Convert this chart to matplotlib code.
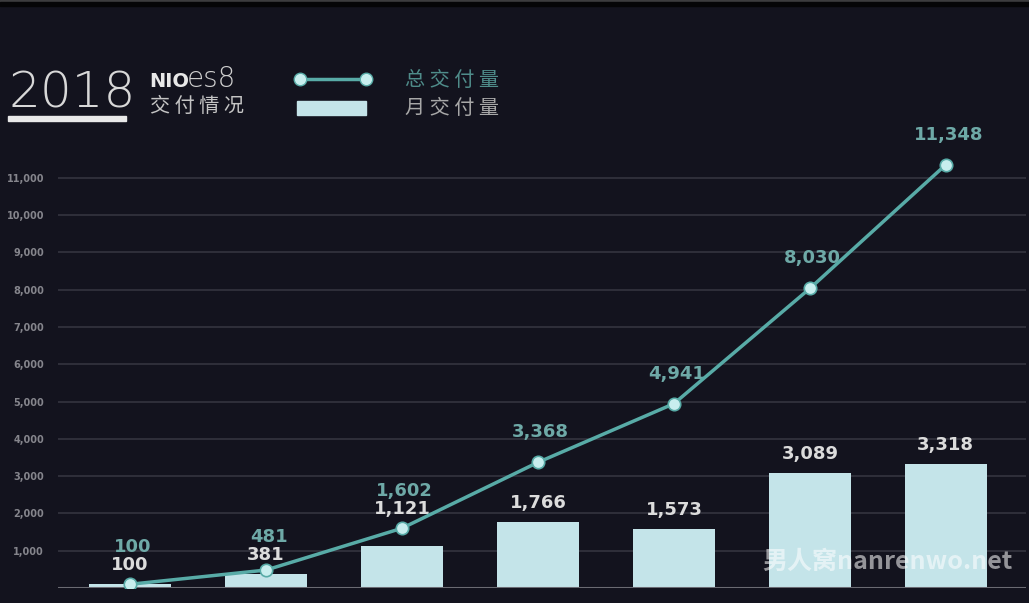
import numpy as np
import matplotlib.pyplot as plt
from matplotlib.patches import Rectangle
from matplotlib.lines import Line2D

plt.rcParams['font.family'] = ['DejaVu Sans', 'Noto Sans CJK SC']

# data
months = ['1', '2', '3', '4', '5', '6', '7']
monthly = [100, 381, 1121, 1766, 1573, 3089, 3318]
total = [100, 481, 1602, 3368, 4941, 8030, 11348]
yticks = [1000, 2000, 3000, 4000, 5000, 6000, 7000, 8000, 9000, 10000, 11000]

bg = '#13131e'
bar_c = '#c4e4e9'
line_c = '#58aba7'
tot_txt = '#6ea9a7'
bar_txt = '#dcdcdc'

W, H = 1029, 603
fig = plt.figure(figsize=(W / 100, H / 100), dpi=100, facecolor=bg)

# top strip of the screenshot
fig.patches.append(Rectangle((0, 1 - 2 / H), 1, 2 / H, transform=fig.transFigure,
                             color='#3c3c3e', zorder=0))
fig.patches.append(Rectangle((0, 1 - 6 / H), 1, 4 / H, transform=fig.transFigure,
                             color='#050507', zorder=0))

# axes placed in pixel terms
x0, x1 = 58, 1026
ybase, ytop = 588, 100
ax = fig.add_axes([x0 / W, (H - ybase) / H, (x1 - x0) / W, (ybase - ytop) / H])
ax.set_facecolor(bg)
upp = 1000 / 37.3  # data units per pixel
ax.set_ylim(0, (ybase - ytop) * upp)
ax.set_xlim(-0.53, 6.59)

for s in ax.spines.values():
    s.set_visible(False)
ax.set_xticks([])
ax.set_yticks(yticks)
ax.set_yticklabels([f'{v:,}' for v in yticks], color='#85858c', fontsize=7,
                   fontweight='bold')
ax.tick_params(axis='y', length=0, pad=10)
for v in yticks:
    ax.axhline(v, color='#34343f', lw=1.2, zorder=1)
ax.axhline(0, color='#6a6a72', lw=2.2, zorder=4)

x = np.arange(len(months))
ax.bar(x, monthly, width=0.6, color=bar_c, zorder=2)
ax.plot(x, total, color=line_c, lw=2.5, zorder=5)
ax.scatter(x, total, s=80, color='#c8eeee', edgecolor=line_c, lw=1.2, zorder=6)

# value labels
for i in range(len(x)):
    base = monthly[i]
    if monthly[i] + 300 <= total[i] < monthly[i] + 1000:
        base = total[i]
    my = base + 10 * upp
    ax.text(x[i], my, f'{monthly[i]:,}', ha='center', va='bottom',
            color=bar_txt, fontsize=13, fontweight='bold')
    ty = total[i] + 21 * upp
    if ty < my + 22 * upp:
        ty = my + 18 * upp
    ax.text(x[i] + 0.02, ty, f'{total[i]:,}', ha='center', va='bottom',
            color=tot_txt, fontsize=13, fontweight='bold')

# header
fig.text(8 / W, 1 - 108 / H, '2018', color='#d8d8d8', fontsize=36,
         fontweight='light', ha='left', va='baseline')
fig.patches.append(Rectangle((8 / W, 1 - 121 / H), 118 / W, 5 / H,
                             transform=fig.transFigure, color='#e8e8e8'))
fig.text(149 / W, 1 - 87 / H, 'NIO', color='#e8e8e8', fontsize=14,
         fontweight='bold', ha='left', va='baseline')
fig.text(187 / W, 1 - 87 / H, 'es8', color='#cfcfcf', fontsize=20,
         fontweight='light', ha='left', va='baseline')
fig.text(150 / W, 1 - 107 / H, '交 付 情 况', color='#c4c4c4', fontsize=14.5,
         ha='left', va='center', family=['Noto Sans CJK SC'])

fig.lines.append(Line2D([300 / W, 366 / W], [1 - 79 / H, 1 - 79 / H],
                        transform=fig.transFigure, color=line_c, lw=2.5,
                        marker='o', markersize=9, markerfacecolor='#c8eeee',
                        markeredgecolor=line_c))
fig.text(405 / W, 1 - 80 / H, '总 交 付 量', color='#4f8c8a', fontsize=14.5,
         ha='left', va='center', family=['Noto Sans CJK SC'])
fig.patches.append(Rectangle((297 / W, 1 - 115 / H), 69 / W, 14 / H,
                             transform=fig.transFigure, color=bar_c))
fig.text(405 / W, 1 - 108 / H, '月 交 付 量', color='#a8a8a8', fontsize=14.5,
         ha='left', va='center', family=['Noto Sans CJK SC'])

# watermark
fig.text(762 / W, 1 - 562 / H, '男人窝nanrenwo.net', color='white', alpha=0.55,
         fontsize=18, fontweight='bold', fontstretch='condensed', ha='left',
         va='center', family=['Noto Sans CJK SC', 'DejaVu Sans'])

fig.savefig('out.png', dpi=100, facecolor=bg)
